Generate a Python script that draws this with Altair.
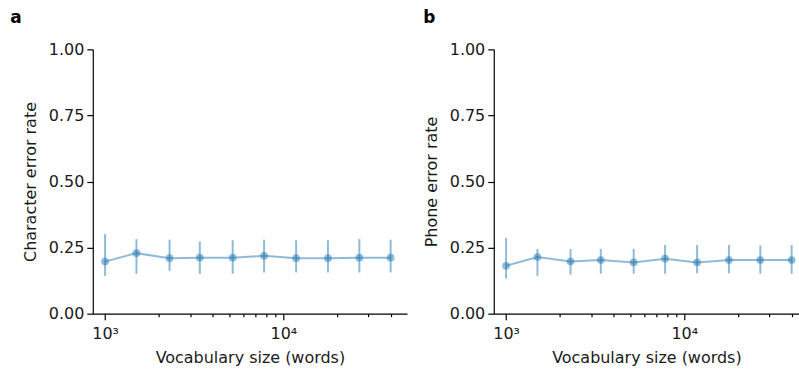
import altair as alt
import pandas as pd

vocab = [1000, 1500, 2300, 3400, 5200, 7800, 11800, 17800, 26700, 40000]

cer = [0.197, 0.229, 0.210, 0.212, 0.212, 0.219, 0.210, 0.210, 0.212, 0.212]
cer_lo = [0.143, 0.151, 0.162, 0.151, 0.151, 0.156, 0.156, 0.156, 0.156, 0.156]
cer_hi = [0.301, 0.282, 0.280, 0.273, 0.278, 0.280, 0.278, 0.278, 0.282, 0.280]

per = [0.181, 0.214, 0.197, 0.203, 0.194, 0.208, 0.194, 0.203, 0.203, 0.203]
per_lo = [0.133, 0.143, 0.148, 0.151, 0.151, 0.151, 0.153, 0.153, 0.151, 0.151]
per_hi = [0.287, 0.245, 0.245, 0.245, 0.245, 0.260, 0.260, 0.260, 0.258, 0.260]

major_ticks = [1000, 10000]
minor_ticks = [2000, 3000, 4000, 5000, 6000, 7000, 8000, 9000, 20000, 30000, 40000]
y_ticks = [0, 0.25, 0.5, 0.75, 1.0]

C = "#1f77b4"
FONT = "DejaVu Sans"


def panel(vals, lo, hi, ytitle, label, width, xmax, dx):
    df = pd.DataFrame({"vocab": vocab, "val": vals, "lo": lo, "hi": hi})
    xscale = alt.Scale(type="log", domain=[853, xmax], nice=False)
    yscale = alt.Scale(domain=[0, 1], nice=False)
    xax = alt.Axis(
        values=major_ticks,
        labelExpr="datum.value == 1000 ? '10³' : '10⁴'",
        title="Vocabulary size (words)",
        tickSize=6,
        grid=False,
        orient="bottom",
        labelPadding=6,
        titlePadding=8,
    )
    yax = alt.Axis(
        values=y_ticks,
        format=".2f",
        title=ytitle,
        tickSize=6,
        grid=False,
        labelPadding=3,
        titlePadding=10,
    )
    base = alt.Chart(df)
    line = base.mark_line(color=C, opacity=0.5, strokeWidth=2).encode(
        x=alt.X("vocab:Q", scale=xscale, axis=xax),
        y=alt.Y("val:Q", scale=yscale, axis=yax),
    )
    bars = base.mark_rule(color=C, opacity=0.5, strokeWidth=2).encode(
        x=alt.X("vocab:Q", scale=xscale, axis=None),
        y=alt.Y("lo:Q", scale=yscale, axis=yax),
        y2="hi:Q",
    )
    pts = base.mark_circle(color=C, opacity=0.5, size=60).encode(
        x=alt.X("vocab:Q", scale=xscale, axis=None),
        y=alt.Y("val:Q", scale=yscale, axis=yax),
    )
    minor = base.mark_point(opacity=0).encode(
        x=alt.X(
            "vocab:Q",
            scale=xscale,
            axis=alt.Axis(
                values=minor_ticks,
                labels=False,
                domain=False,
                tickSize=3,
                title=None,
                grid=False,
                orient="bottom",
            ),
        ),
        y=alt.Y("val:Q", scale=yscale, axis=yax),
    )
    return (
        alt.layer(line, bars, pts, minor)
        .resolve_axis(x="independent", y="shared")
        .properties(
            width=width,
            height=265,
            title=alt.TitleParams(
                label,
                anchor="start",
                frame="bounds",
                fontSize=17,
                fontWeight="bold",
                font=FONT,
                dx=dx,
                offset=14,
            ),
        )
    )


left = panel(cer, cer_lo, cer_hi, "Character error rate", "a", 315, 49400, -12)
right = panel(per, per_lo, per_hi, "Phone error rate", "b", 306, 44000, 0)

chart = (
    alt.hconcat(left, right, spacing=16)
    .properties(padding={"left": 10, "top": 9, "right": 0, "bottom": 0})
    .configure_view(stroke=None)
    .configure_axis(
        labelFont=FONT,
        titleFont=FONT,
        labelFontSize=16,
        titleFontSize=16,
        titleFontWeight="normal",
        labelColor="#1a1a1a",
        titleColor="#1a1a1a",
        domainColor="#000000",
        tickColor="#000000",
        domainWidth=1.2,
        tickWidth=1.2,
    )
)

chart.save("out.html", embed_options={"renderer": "svg", "actions": False})
